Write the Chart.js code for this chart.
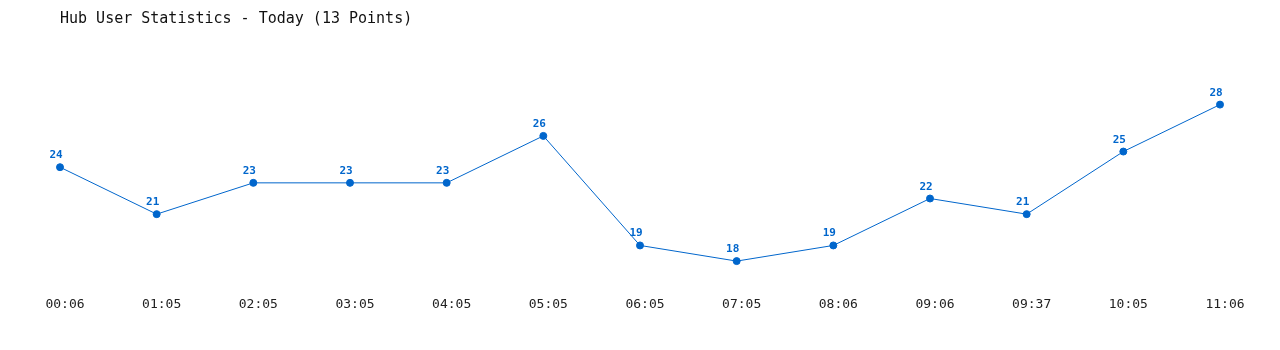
<!DOCTYPE html>
<html>
<head>
<meta charset="utf-8">
<script src="https://cdn.jsdelivr.net/npm/chart.js@4"></script>
<style>
  body { margin: 0; background: #fff; }
  #wrap { width: 1280px; height: 350px; }
</style>
</head>
<body>
<div id="wrap"><canvas id="hub-chart" width="1280" height="350"></canvas></div>
<script>
const times = ["00:06", "01:05", "02:05", "03:05", "04:05", "05:05", "06:05",
               "07:05", "08:06", "09:06", "09:37", "10:05", "11:06"];
const users = [24, 21, 23, 23, 23, 26, 19, 18, 19, 22, 21, 25, 28];

const lineColor = "#0066cc";
const monoFont = "'DejaVu Sans Mono', 'Liberation Mono', monospace";

// draws the value above each point
const valueLabels = {
    id: "valueLabels",
    afterDatasetsDraw(chart) {
        const ctx = chart.ctx;
        const meta = chart.getDatasetMeta(0);
        ctx.save();
        ctx.font = "bold 11px " + monoFont;
        ctx.fillStyle = lineColor;
        ctx.textAlign = "center";
        ctx.textBaseline = "alphabetic";
        meta.data.forEach((pt, i) => {
            ctx.fillText(String(users[i]), pt.x - 4, pt.y - 9);
        });
        ctx.restore();
    }
};

new Chart(document.getElementById("hub-chart").getContext("2d"), {
    type: "line",
    data: {
        labels: times,
        datasets: [{
            label: "Users",
            data: users,
            borderColor: lineColor,
            backgroundColor: lineColor,
            borderWidth: 1,
            pointRadius: 3.5,
            pointHoverRadius: 3.5,
            tension: 0,
            clip: false
        }]
    },
    options: {
        responsive: false,
        animation: false,
        layout: { padding: { left: 60, right: 60, top: 0, bottom: 34 } },
        plugins: {
            legend: { display: false },
            tooltip: { enabled: false },
            title: {
                display: true,
                text: "Hub User Statistics - Today (13 Points)",
                align: "start",
                color: "#111",
                font: { family: monoFont, size: 15, weight: "normal" },
                padding: { top: 10, bottom: 14 }
            }
        },
        scales: {
            x: {
                grid: { display: false, drawTicks: false },
                border: { display: false },
                ticks: {
                    color: "#222",
                    padding: 4,
                    labelOffset: 5,
                    maxRotation: 0,
                    autoSkip: false,
                    font: { family: monoFont, size: 13 }
                }
            },
            y: {
                display: false,
                min: 16,
                max: 32
            }
        }
    },
    plugins: [valueLabels]
});
</script>
</body>
</html>
